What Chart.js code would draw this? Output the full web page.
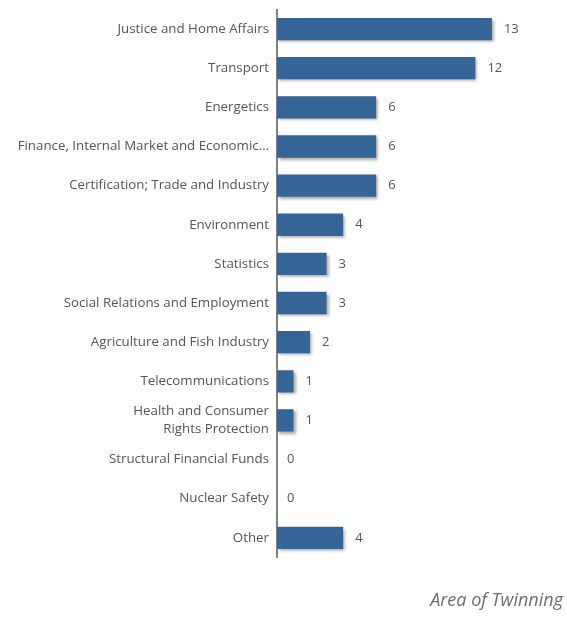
<!DOCTYPE html>
<html>
<head>
<meta charset="utf-8">
<script src="https://cdn.jsdelivr.net/npm/chart.js@4/dist/chart.umd.min.js"></script>
<style>
  html, body { margin: 0; padding: 0; background: #fff; }
  #wrap { width: 567px; height: 618px; }
</style>
</head>
<body>
<div id="wrap"><canvas id="twinChart"></canvas></div>
<script>
var categories = [
    "Justice and Home Affairs",
    "Transport",
    "Energetics",
    "Finance, Internal Market and Economic\u2026",
    "Certification; Trade and Industry",
    "Environment",
    "Statistics",
    "Social Relations and Employment",
    "Agriculture and Fish Industry",
    "Telecommunications",
    ["Health and Consumer", "Rights Protection"],
    "Structural Financial Funds",
    "Nuclear Safety",
    "Other"
];
var projects = [13, 12, 6, 6, 6, 4, 3, 3, 2, 1, 1, 0, 0, 4];

// shadow under the bars
var barShadow = {
    id: "barShadow",
    beforeDatasetsDraw: function (chart) {
        var c = chart.ctx;
        c.save();
        c.shadowColor = "rgba(0,0,0,0.35)";
        c.shadowOffsetX = 2;
        c.shadowOffsetY = 2;
        c.shadowBlur = 3;
    },
    afterDatasetsDraw: function (chart) {
        chart.ctx.restore();
    }
};

// numbers next to the bars
var valueLabels = {
    id: "valueLabels",
    afterDraw: function (chart) {
        var c = chart.ctx;
        var meta = chart.getDatasetMeta(0);
        c.save();
        c.font = "13px 'Open Sans'";
        c.fillStyle = "#555555";
        c.textAlign = "left";
        c.textBaseline = "middle";
        meta.data.forEach(function (bar, i) {
            var gap = projects[i] > 0 ? 12 : 10;
            c.fillText(String(projects[i]), bar.x + gap, bar.y);
        });
        c.restore();
    }
};

var ctx = document.getElementById("twinChart").getContext("2d");
var twinChart = new Chart(ctx, {
    type: "bar",
    data: {
        labels: categories,
        datasets: [
            {
                label: "Area of Twinning",
                data: projects,
                backgroundColor: "#356596",
                borderWidth: 0,
                barPercentage: 0.57,
                categoryPercentage: 1
            }
        ]
    },
    options: {
        indexAxis: "y",
        responsive: true,
        maintainAspectRatio: false,
        animation: false,
        layout: { padding: { top: 9.5, right: 4, left: 0, bottom: 0 } },
        scales: {
            x: {
                display: false,
                min: 0,
                max: 17.3
            },
            y: {
                afterFit: function (scale) {
                    scale.width = 277;
                    scale.paddingTop = 0;
                    scale.paddingBottom = 0;
                },
                grid: { display: false, drawTicks: false },
                border: { display: true, color: "#808080", width: 2 },
                ticks: {
                    padding: 8,
                    color: "#555555",
                    font: { family: "'Open Sans'", size: 13.3, lineHeight: 1.35 },
                    autoSkip: false
                }
            }
        },
        plugins: {
            legend: { display: false },
            tooltip: { enabled: false },
            title: {
                display: true,
                text: "Area of Twinning",
                position: "bottom",
                align: "end",
                color: "#6e6e6e",
                font: { family: "'Open Sans'", size: 18, style: "italic", weight: "normal" },
                padding: { top: 33, bottom: 6 }
            }
        }
    },
    plugins: [barShadow, valueLabels]
});
</script>
</body>
</html>
